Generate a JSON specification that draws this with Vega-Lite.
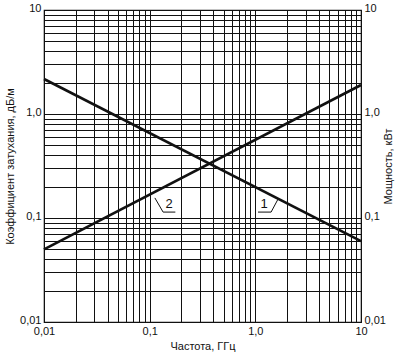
{
  "$schema": "https://vega.github.io/schema/vega-lite/v6.json",
  "width": 317,
  "height": 312,
  "autosize": {"type": "none"},
  "padding": {"left": 44, "top": 10, "right": 50, "bottom": 35},
  "background": "white",
  "config": {
    "view": {"stroke": "#111", "strokeWidth": 1.2},
    "font": "Liberation Sans",
    "axis": {
      "labelFont": "Liberation Sans",
      "titleFont": "Liberation Sans",
      "labelFontSize": 11,
      "titleFontSize": 11,
      "titleFontWeight": "normal",
      "labelColor": "#111",
      "titleColor": "#111",
      "ticks": false,
      "domain": false,
      "gridColor": "#111",
      "gridOpacity": 1,
      "gridWidth": 1,
      "labelOverlap": false,
      "labelBound": false,
      "labelFlush": false
    }
  },
  "datasets": {
    "lines": [
      {"freq": 0.01, "value": 2.17, "series": "1"},
      {"freq": 10, "value": 0.06, "series": "1"},
      {"freq": 0.01, "value": 0.05, "series": "2"},
      {"freq": 10, "value": 1.9, "series": "2"}
    ],
    "leaders": [
      {"x": 0.112, "y": 0.156, "x2": 0.134, "y2": 0.114},
      {"x": 0.134, "y": 0.114, "x2": 0.175, "y2": 0.114},
      {"x": 1.64, "y": 0.152, "x2": 1.41, "y2": 0.114},
      {"x": 1.41, "y": 0.114, "x2": 1.06, "y2": 0.114}
    ],
    "labels": [
      {"x": 0.153, "y": 0.118, "text": "2"},
      {"x": 1.21, "y": 0.118, "text": "1"}
    ]
  },
  "resolve": {"axis": {"y": "independent"}},
  "layer": [
    {
      "data": {"name": "lines"},
      "mark": {"type": "line", "color": "#111", "strokeWidth": 2.6},
      "encoding": {
        "x": {
          "field": "freq", "type": "quantitative",
          "scale": {"type": "log", "domain": [0.01, 10], "nice": false},
          "axis": {
            "title": "Частота, ГГц",
            "values": [0.01,0.02,0.03,0.04,0.05,0.06,0.07,0.08,0.09,0.1,0.2,0.3,0.4,0.5,0.6,0.7,0.8,0.9,1,2,3,4,5,6,7,8,9,10],
            "labelExpr": "datum.value == 0.01 ? '0,01' : datum.value == 0.1 ? '0,1' : datum.value == 1 ? '1,0' : datum.value == 10 ? '10' : ''",
            "labelPadding": 3,
            "titlePadding": 4
          }
        },
        "y": {
          "field": "value", "type": "quantitative",
          "scale": {"type": "log", "domain": [0.01, 10], "nice": false},
          "axis": {
            "title": "Коэффициент затухания, дБ/м",
            "orient": "left",
            "values": [0.01,0.02,0.03,0.04,0.05,0.06,0.07,0.08,0.09,0.1,0.2,0.3,0.4,0.5,0.6,0.7,0.8,0.9,1,2,3,4,5,6,7,8,9,10],
            "labelExpr": "datum.value == 0.01 ? '0,01' : datum.value == 0.1 ? '0,1' : datum.value == 1 ? '1,0' : datum.value == 10 ? '10' : ''",
            "labelPadding": 3,
            "labelBaseline": "middle",
            "labelOffset": -2,
            "titlePadding": 4
          }
        },
        "detail": {"field": "series"}
      }
    },
    {
      "data": {"name": "leaders"},
      "mark": {"type": "rule", "color": "#111", "strokeWidth": 1},
      "encoding": {
        "x": {"field": "x", "type": "quantitative", "scale": {"type": "log", "domain": [0.01, 10], "nice": false}},
        "y": {
          "field": "y", "type": "quantitative",
          "scale": {"type": "log", "domain": [0.01, 10], "nice": false},
          "axis": {
            "title": "Мощность, кВт",
            "orient": "right",
            "grid": false,
            "values": [0.01, 0.1, 1, 10],
            "labelExpr": "datum.value == 0.01 ? '0,01' : datum.value == 0.1 ? '0,1' : datum.value == 1 ? '1,0' : '10'",
            "labelPadding": 3,
            "labelBaseline": "middle",
            "labelOffset": -2,
            "titleAngle": 270,
            "titlePadding": 8
          }
        },
        "x2": {"field": "x2"},
        "y2": {"field": "y2"}
      }
    },
    {
      "data": {"name": "labels"},
      "mark": {"type": "text", "color": "#111", "fontSize": 13, "font": "Liberation Sans", "baseline": "bottom"},
      "encoding": {
        "x": {"field": "x", "type": "quantitative", "scale": {"type": "log", "domain": [0.01, 10], "nice": false}},
        "y": {"field": "y", "type": "quantitative", "scale": {"type": "log", "domain": [0.01, 10], "nice": false}, "axis": null},
        "text": {"field": "text"}
      }
    }
  ]
}
